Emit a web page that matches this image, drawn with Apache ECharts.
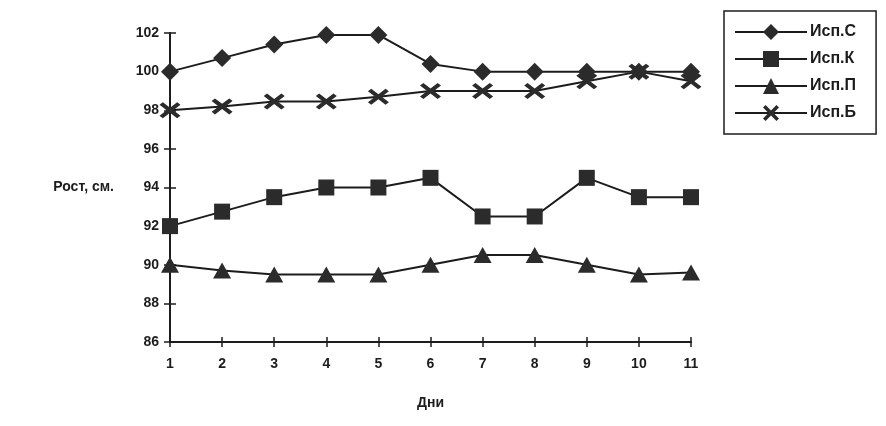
<!DOCTYPE html>
<html><head><meta charset="utf-8">
<script src="https://cdn.jsdelivr.net/npm/echarts@6/dist/echarts.min.js"></script>
<style>html,body{margin:0;padding:0;background:#fff}#c{width:886px;height:426px}</style>
</head><body><div id="c"></div>
<script>
const days = ['1','2','3','4','5','6','7','8','9','10','11'];
const seriesNames = ['Исп.С','Исп.К','Исп.П','Исп.Б'];
const ispC = [100, 100.7, 101.4, 101.9, 101.9, 100.4, 100, 100, 100, 100, 100];
const ispK = [92, 92.75, 93.5, 94, 94, 94.5, 92.5, 92.5, 94.5, 93.5, 93.5];
const ispP = [90, 89.7, 89.5, 89.5, 89.5, 90, 90.5, 90.5, 90, 89.5, 89.6];
const ispB = [98, 98.2, 98.45, 98.45, 98.7, 99, 99, 99, 99.5, 100, 99.5];
const yTicks = {min: 86, max: 102, interval: 2};

const font = 'Liberation Sans, Arial, sans-serif';
const ink = '#1c1c1c';
const mark = '#2b2b2b';
const crossPath = 'path://M0,1.6L1.6,0L5,3.4L8.4,0L10,1.6L6.6,5L10,8.4L8.4,10L5,6.6L1.6,10L0,8.4L3.4,5Z';

function mk(name, data, symbol, size) {
  return {
    name, type: 'line', data, symbol, symbolSize: size,
    lineStyle: {color: ink, width: 2},
    itemStyle: {color: mark, borderColor: mark, borderWidth: 0},
    xAxisIndex: 0, yAxisIndex: 0, z: 3, animation: false
  };
}

const chart = echarts.init(document.getElementById('c'));
const grid = {left: 170, right: 195, top: 33, bottom: 84};
chart.setOption({
  backgroundColor: '#fff',
  animation: false,
  grid: grid,
  legend: {
    orient: 'vertical', left: 724, top: 11,
    itemWidth: 72, itemHeight: 20, itemGap: 11,
    padding: [13, 20, 13, 10],
    borderColor: ink, borderWidth: 1.5,
    textStyle: {fontFamily: font, fontWeight: 'bold', fontSize: 16, color: ink, padding: [0,0,0,-2]},
    data: seriesNames
  },
  xAxis: [{
    type: 'category', data: days, boundaryGap: false,
    axisLine: {lineStyle: {color: ink, width: 2}},
    axisTick: {show: true, length: 5, lineStyle: {color: ink, width: 1.5}},
    axisLabel: {fontFamily: font, fontWeight: 'bold', fontSize: 14, color: ink, margin: 15},
    splitLine: {show: false},
    name: 'Дни', nameLocation: 'middle', nameGap: 54,
    nameTextStyle: {fontFamily: font, fontWeight: 'bold', fontSize: 14, color: ink}
  }, {
    type: 'category', data: days, boundaryGap: false, position: 'bottom',
    axisLine: {show: false},
    axisTick: {show: true, inside: true, length: 5, lineStyle: {color: ink, width: 1.5}},
    axisLabel: {show: false}, splitLine: {show: false}
  }],
  yAxis: [{
    type: 'value', min: yTicks.min, max: yTicks.max, interval: yTicks.interval,
    axisLine: {show: true, lineStyle: {color: ink, width: 2}},
    axisTick: {show: true, length: 6, lineStyle: {color: ink, width: 1.5}},
    axisLabel: {fontFamily: font, fontWeight: 'bold', fontSize: 14, color: ink, margin: 11},
    splitLine: {show: false},
    name: 'Рост, см.', nameLocation: 'middle', nameRotate: 0, nameGap: 56,
    nameTextStyle: {fontFamily: font, fontWeight: 'bold', fontSize: 14, color: ink}
  }, {
    type: 'value', min: yTicks.min, max: yTicks.max, interval: yTicks.interval, position: 'left',
    axisLine: {show: false},
    axisTick: {show: true, inside: true, length: 6, lineStyle: {color: ink, width: 1.5}},
    axisLabel: {show: false}, splitLine: {show: false}
  }],
  series: [
    mk(seriesNames[0], ispC, 'diamond', [18, 18]),
    mk(seriesNames[1], ispK, 'rect', [16, 16]),
    mk(seriesNames[2], ispP, 'triangle', [18, 16]),
    mk(seriesNames[3], ispB, crossPath, [21, 16])
  ]
});
</script></body></html>
